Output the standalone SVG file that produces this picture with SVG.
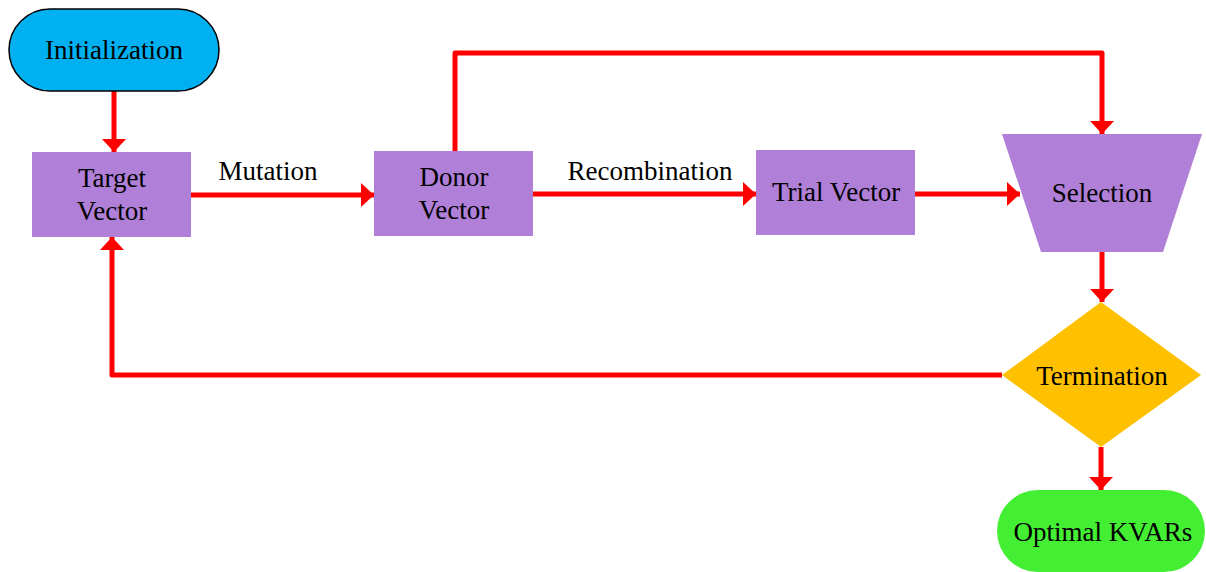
<svg xmlns="http://www.w3.org/2000/svg" width="1206" height="572" viewBox="0 0 1206 572">
<style>
text{font-family:"Liberation Serif","Times New Roman",serif;font-size:27px;fill:#000;text-anchor:middle}
.proc{fill:#B07FD7}
.conn{fill:none;stroke:#FF0000;stroke-width:5;stroke-linejoin:round}
</style>
<defs>
<marker id="ah" viewBox="0 0 13 24" markerWidth="13" markerHeight="24" refX="13" refY="12" orient="auto" markerUnits="userSpaceOnUse">
<path d="M0,0 L13,12 L0,24 Z" fill="#FF0000"/>
</marker>
</defs>
<rect width="1206" height="572" fill="#FFFFFF"/>
<g id="connectors">
<path class="conn" d="M114,91 V152" marker-end="url(#ah)"/>
<path class="conn" d="M191,195 H374" marker-end="url(#ah)"/>
<path class="conn" d="M533,194 H756" marker-end="url(#ah)"/>
<path class="conn" d="M915,194 H1020" marker-end="url(#ah)"/>
<path class="conn" d="M455,151 V53 H1102 V134" marker-end="url(#ah)"/>
<path class="conn" d="M1102,252 V302" marker-end="url(#ah)"/>
<path class="conn" d="M1101,447 V490" marker-end="url(#ah)"/>
<path class="conn" d="M1002,375 H112 V237" marker-end="url(#ah)"/>
<text x="268" y="180">Mutation</text>
<text x="650" y="180">Recombination</text>
</g>
<g id="initialization">
<rect x="9" y="9" width="210" height="82" rx="41" ry="41" fill="#00B0F0" stroke="#000" stroke-width="1.5"/>
<text x="114" y="59">Initialization</text>
</g>
<g id="target-vector">
<rect class="proc" x="32" y="152" width="159" height="85"/>
<text x="112" y="187">Target</text>
<text x="112" y="220">Vector</text>
</g>
<g id="donor-vector">
<rect class="proc" x="374" y="151" width="159" height="85"/>
<text x="454" y="186">Donor</text>
<text x="454" y="219">Vector</text>
</g>
<g id="trial-vector">
<rect class="proc" x="756" y="150" width="159" height="85"/>
<text x="836" y="201">Trial Vector</text>
</g>
<g id="selection">
<polygon class="proc" points="1002,134 1202,134 1163,252 1041,252"/>
<text x="1102" y="202">Selection</text>
</g>
<g id="termination">
<polygon points="1101,302 1201,375 1101,447 1002,375" fill="#FFC000"/>
<text x="1102" y="385">Termination</text>
</g>
<g id="optimal-kvars">
<rect x="997" y="490" width="208" height="82" rx="41" ry="41" fill="#44EE33"/>
<text x="1103" y="541">Optimal KVARs</text>
</g>
</svg>
